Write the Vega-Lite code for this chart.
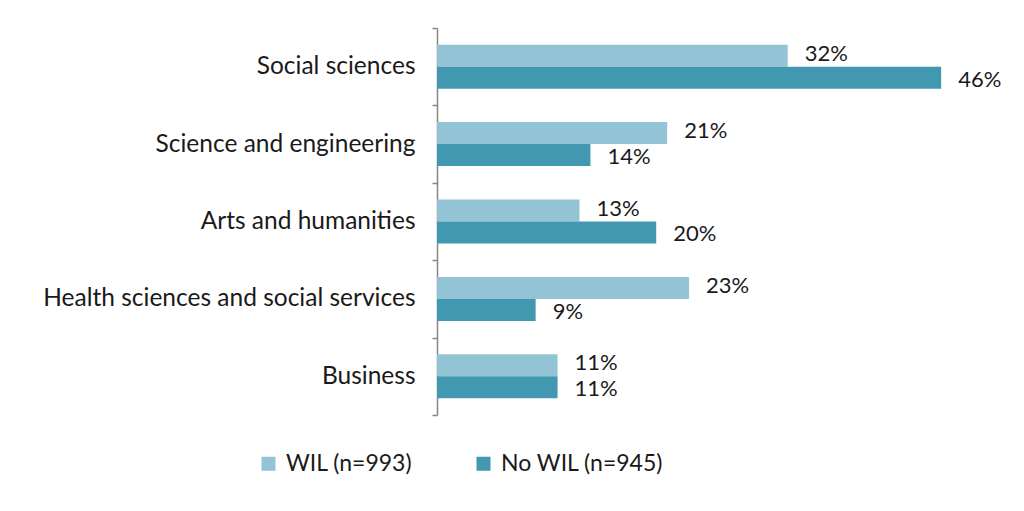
{
  "$schema": "https://vega.github.io/schema/vega-lite/v6.json",
  "width": 548,
  "height": 387,
  "autosize": {"type": "none"},
  "padding": {"left": 437, "top": 28, "right": 39, "bottom": 96},
  "background": "white",
  "config": {"view": {"stroke": null}, "font": "Lato"},
  "data": {
    "values": [
      {"category": "Social sciences", "group": "WIL (n=993)", "value": 0.32},
      {"category": "Social sciences", "group": "No WIL (n=945)", "value": 0.46},
      {"category": "Science and engineering", "group": "WIL (n=993)", "value": 0.21},
      {"category": "Science and engineering", "group": "No WIL (n=945)", "value": 0.14},
      {"category": "Arts and humanities", "group": "WIL (n=993)", "value": 0.13},
      {"category": "Arts and humanities", "group": "No WIL (n=945)", "value": 0.20},
      {"category": "Health sciences and social services", "group": "WIL (n=993)", "value": 0.23},
      {"category": "Health sciences and social services", "group": "No WIL (n=945)", "value": 0.09},
      {"category": "Business", "group": "WIL (n=993)", "value": 0.11},
      {"category": "Business", "group": "No WIL (n=945)", "value": 0.11}
    ]
  },
  "encoding": {
    "y": {
      "field": "category",
      "type": "nominal",
      "sort": null,
      "scale": {"paddingInner": 0, "paddingOuter": 0},
      "axis": {
        "title": null,
        "tickBand": "extent",
        "domainColor": "#868686",
        "domainWidth": 1.5,
        "tickColor": "#868686",
        "tickWidth": 1.5,
        "tickSize": 5,
        "labelFontSize": 24.5,
        "labelColor": "#1a1a1a",
        "labelPadding": 17,
        "labelLimit": 600
      }
    },
    "yOffset": {
      "field": "group",
      "type": "nominal",
      "sort": ["WIL (n=993)", "No WIL (n=945)"],
      "scale": {"paddingInner": 0, "paddingOuter": 0.76}
    },
    "x": {
      "field": "value",
      "type": "quantitative",
      "scale": {"domain": [0, 0.5]},
      "axis": null
    }
  },
  "layer": [
    {
      "mark": {"type": "bar"},
      "encoding": {
        "color": {
          "field": "group",
          "type": "nominal",
          "sort": ["WIL (n=993)", "No WIL (n=945)"],
          "scale": {"domain": ["WIL (n=993)", "No WIL (n=945)"], "range": ["#93C4D5", "#4298B0"]},
          "legend": {
            "title": null,
            "orient": "none",
            "legendX": -180,
            "legendY": 424,
            "direction": "horizontal",
            "symbolType": "square",
            "symbolSize": 196,
            "symbolStrokeWidth": 0,
            "labelFontSize": 23,
            "labelColor": "#1a1a1a",
            "labelOffset": 6,
            "columnPadding": 59,
            "labelLimit": 400
          }
        }
      }
    },
    {
      "transform": [{"filter": "datum.group === 'WIL (n=993)'"}],
      "mark": {"type": "text", "align": "left", "dx": 17, "dy": -2, "fontSize": 22, "color": "#1a1a1a"},
      "encoding": {
        "text": {"field": "value", "type": "quantitative", "format": ".0%"}
      }
    },
    {
      "transform": [{"filter": "datum.group === 'No WIL (n=945)'"}],
      "mark": {"type": "text", "align": "left", "dx": 17, "dy": 2, "fontSize": 22, "color": "#1a1a1a"},
      "encoding": {
        "text": {"field": "value", "type": "quantitative", "format": ".0%"}
      }
    }
  ]
}
